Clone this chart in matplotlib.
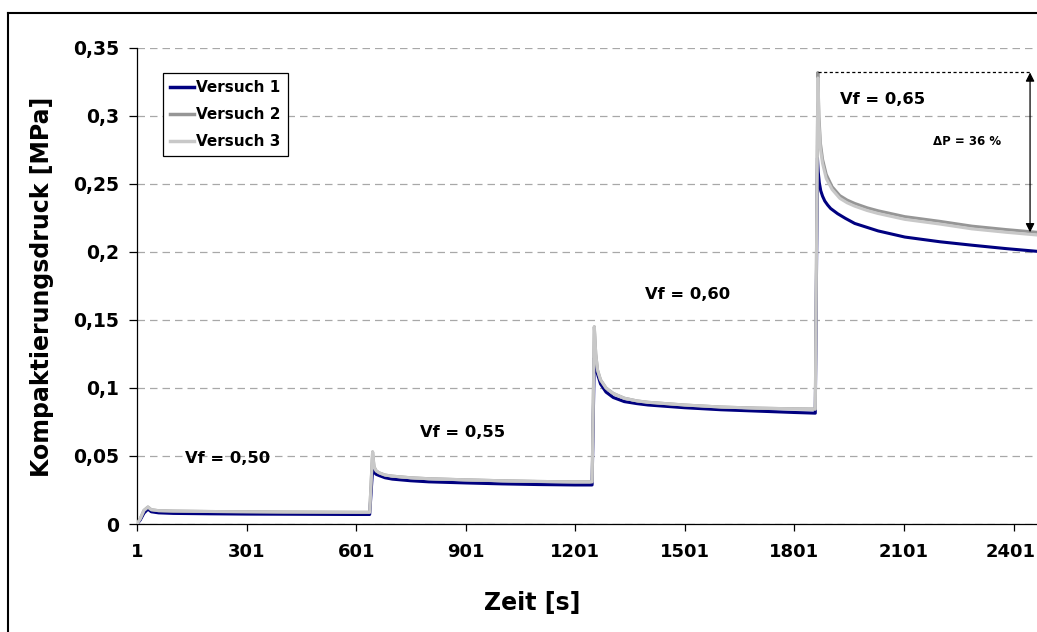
import matplotlib
matplotlib.use("Agg")
import matplotlib.pyplot as plt
from matplotlib.lines import Line2D
from matplotlib.transforms import ScaledTranslation

plt.rcParams['font.family'] = ['DejaVu Sans']
plt.rcParams['font.weight'] = 'bold'

# ---------------- data ----------------
t_v1 = [1, 10, 20, 31, 40, 60, 100, 200, 300, 400, 500, 600, 638,
        646, 650, 656, 665, 680, 700, 750, 800, 900, 1000, 1100, 1200, 1247,
        1253, 1257, 1262, 1270, 1285, 1305, 1335, 1370, 1400, 1500, 1600, 1700, 1800, 1858,
        1864, 1866, 1869, 1873, 1878, 1884, 1892, 1900, 1919, 1940, 1966, 2030, 2103, 2200, 2287, 2380, 2465]
p_v1 = [0.0, 0.003, 0.008, 0.011, 0.009, 0.0082, 0.0078, 0.0075, 0.0073, 0.0072, 0.0071, 0.0070, 0.0070,
        0.040, 0.038, 0.0365, 0.0355, 0.034, 0.033, 0.0318, 0.031, 0.0302, 0.0295, 0.029, 0.0287, 0.0287,
        0.122, 0.115, 0.110, 0.103, 0.097, 0.093, 0.090, 0.0885, 0.0875, 0.0855, 0.0840, 0.0830, 0.0820, 0.0815,
        0.269, 0.259, 0.251, 0.245, 0.241, 0.2375, 0.2345, 0.232, 0.2282, 0.2248, 0.221, 0.2155, 0.211, 0.2075, 0.205, 0.2025, 0.2005]

t_v23 = [1, 10, 20, 31, 40, 60, 100, 200, 300, 400, 500, 600, 638,
         646, 650, 656, 665, 680, 700, 750, 800, 900, 1000, 1100, 1200, 1247,
         1253, 1257, 1262, 1270, 1285, 1305, 1335, 1370, 1400, 1500, 1600, 1700, 1800, 1858,
         1865, 1868, 1872, 1878, 1888, 1904, 1925, 1945, 1966, 2000, 2030, 2103, 2200, 2287, 2380, 2465]
p_v2 = [0.0, 0.004, 0.010, 0.0125, 0.0105, 0.0098, 0.0095, 0.0092, 0.0090, 0.0088, 0.0087, 0.0086, 0.0086,
        0.053, 0.042, 0.039, 0.0375, 0.036, 0.0352, 0.0340, 0.0333, 0.0325, 0.0318, 0.0313, 0.0310, 0.0310,
        0.145, 0.125, 0.113, 0.106, 0.100, 0.096, 0.0925, 0.0905, 0.0895, 0.0875, 0.0860, 0.0852, 0.0847, 0.0845,
        0.332, 0.300, 0.280, 0.268, 0.257, 0.248, 0.2415, 0.2382, 0.2357, 0.2325, 0.2303, 0.226, 0.2225, 0.219, 0.2165, 0.2145]
p_v3 = [0.0, 0.004, 0.010, 0.0125, 0.0105, 0.0098, 0.0095, 0.0092, 0.0090, 0.0088, 0.0087, 0.0086, 0.0086,
        0.053, 0.042, 0.039, 0.0375, 0.036, 0.0352, 0.0340, 0.0333, 0.0325, 0.0318, 0.0313, 0.0310, 0.0310,
        0.145, 0.125, 0.113, 0.106, 0.100, 0.096, 0.0925, 0.0905, 0.0895, 0.0875, 0.0860, 0.0852, 0.0847, 0.0845,
        0.328, 0.295, 0.276, 0.265, 0.254, 0.246, 0.2395, 0.2362, 0.2337, 0.2305, 0.2283, 0.224, 0.2205, 0.217, 0.2145, 0.2125]

series_names = ["Versuch 1", "Versuch 2", "Versuch 3"]
series_colors = ["#000080", "#969696", "#C8C8C8"]

x_ticks = [1, 301, 601, 901, 1201, 1501, 1801, 2101, 2401]
y_ticks = [0, 0.05, 0.1, 0.15, 0.2, 0.25, 0.3, 0.35]
y_tick_labels = ["0", "0,05", "0,1", "0,15", "0,2", "0,25", "0,3", "0,35"]

vf_labels = ["Vf = 0,50", "Vf = 0,55", "Vf = 0,60", "Vf = 0,65"]
vf_pos = [(250, 0.0478), (891, 0.0676), (1507, 0.169), (2043, 0.3125)]
dp_label = "\u0394P = 36 %"
arrow_t = 2446

# ---------------- figure ----------------
W, H = 1037, 632
fig = plt.figure(figsize=(W / 100, H / 100), dpi=100)
ax = fig.add_axes([137 / W, 1 - 524 / H, (W - 137) / W, (524 - 48) / H])

ax.plot(t_v1, p_v1, color=series_colors[0], lw=2.2, label=series_names[0], zorder=3)
ax.plot(t_v23, p_v2, color=series_colors[1], lw=2.2, label=series_names[1], zorder=4)
ax.plot(t_v23, p_v3, color=series_colors[2], lw=2.2, label=series_names[2], zorder=5)

ax.set_xlim(1, 2465)
ax.set_ylim(0, 0.35)
ax.set_xticks(x_ticks)
ax.set_xticklabels([str(v) for v in x_ticks])
ax.set_yticks(y_ticks)
ax.set_yticklabels(y_tick_labels)

for s in ["top", "right"]:
    ax.spines[s].set_visible(False)
for s in ["left", "bottom"]:
    ax.spines[s].set_color("black")
    ax.spines[s].set_linewidth(0.9)

ax.tick_params(axis="y", direction="out", length=6, width=0.9, pad=7, labelsize=13.5)
ax.tick_params(axis="x", direction="out", length=5, width=0.9, pad=9, labelsize=13)
for lab in ax.get_xticklabels() + ax.get_yticklabels():
    lab.set_fontweight("bold")
# keep the last x tick label inside the (cropped) figure: right-align it just inside the edge
last = ax.get_xticklabels()[-1]
last.set_ha("right")
last.set_transform(last.get_transform() + ScaledTranslation(22 / 100, 0, fig.dpi_scale_trans))

ax.yaxis.grid(True, linestyle=(0, (6, 4)), color="#A8A8A8", lw=0.9)
ax.set_axisbelow(True)

ax.set_xlabel("Zeit [s]", fontsize=17, fontweight="bold")
ax.xaxis.set_label_coords(0.4388, -0.166)
ax.xaxis.label.set_va("center")
ax.set_ylabel("Kompaktierungsdruck [MPa]", fontsize=17, fontweight="bold")
ax.yaxis.set_label_coords(-0.1056, 0.498)
ax.yaxis.label.set_va("center")

for txt, (tx, ty) in zip(vf_labels, vf_pos):
    ax.text(tx, ty, txt, fontsize=11.8, fontweight="bold", ha="center", va="center")

# Delta P annotation
peak = max(p_v2)
peak_t = t_v23[p_v2.index(peak)]
end_val = p_v2[-1]
ax.plot([peak_t, arrow_t], [peak, peak], color="black", lw=0.9, ls=(0, (2.5, 2)), zorder=6)
ax.annotate("", xy=(arrow_t, end_val), xytext=(arrow_t, peak),
            arrowprops=dict(arrowstyle="<|-|>", color="black", lw=0.9,
                            mutation_scale=13, shrinkA=0, shrinkB=0), zorder=6)
ax.text(2273, 0.281, dp_label, fontsize=8.5, fontweight="bold", ha="center", va="center")

leg = ax.legend(loc="upper left", bbox_to_anchor=(163 / W, 1 - 73 / H),
                bbox_transform=fig.transFigure, frameon=True, fancybox=False,
                edgecolor="black", framealpha=1, fontsize=11,
                handlelength=1.6, handletextpad=0.12, borderpad=0.45,
                labelspacing=0.8, borderaxespad=0)
leg.get_frame().set_linewidth(0.9)
for t in leg.get_texts():
    t.set_fontweight("bold")
for l in leg.get_lines():
    l.set_linewidth(2.5)

# outer frame (only left and top edges visible in the crop)
fig.add_artist(Line2D([7.5 / W, 7.5 / W], [0, 1 - 13 / H], transform=fig.transFigure,
                      color="black", lw=1.5))
fig.add_artist(Line2D([7.5 / W, 1], [1 - 13 / H, 1 - 13 / H], transform=fig.transFigure,
                      color="black", lw=1.5))

fig.savefig("out.png", dpi=100)
